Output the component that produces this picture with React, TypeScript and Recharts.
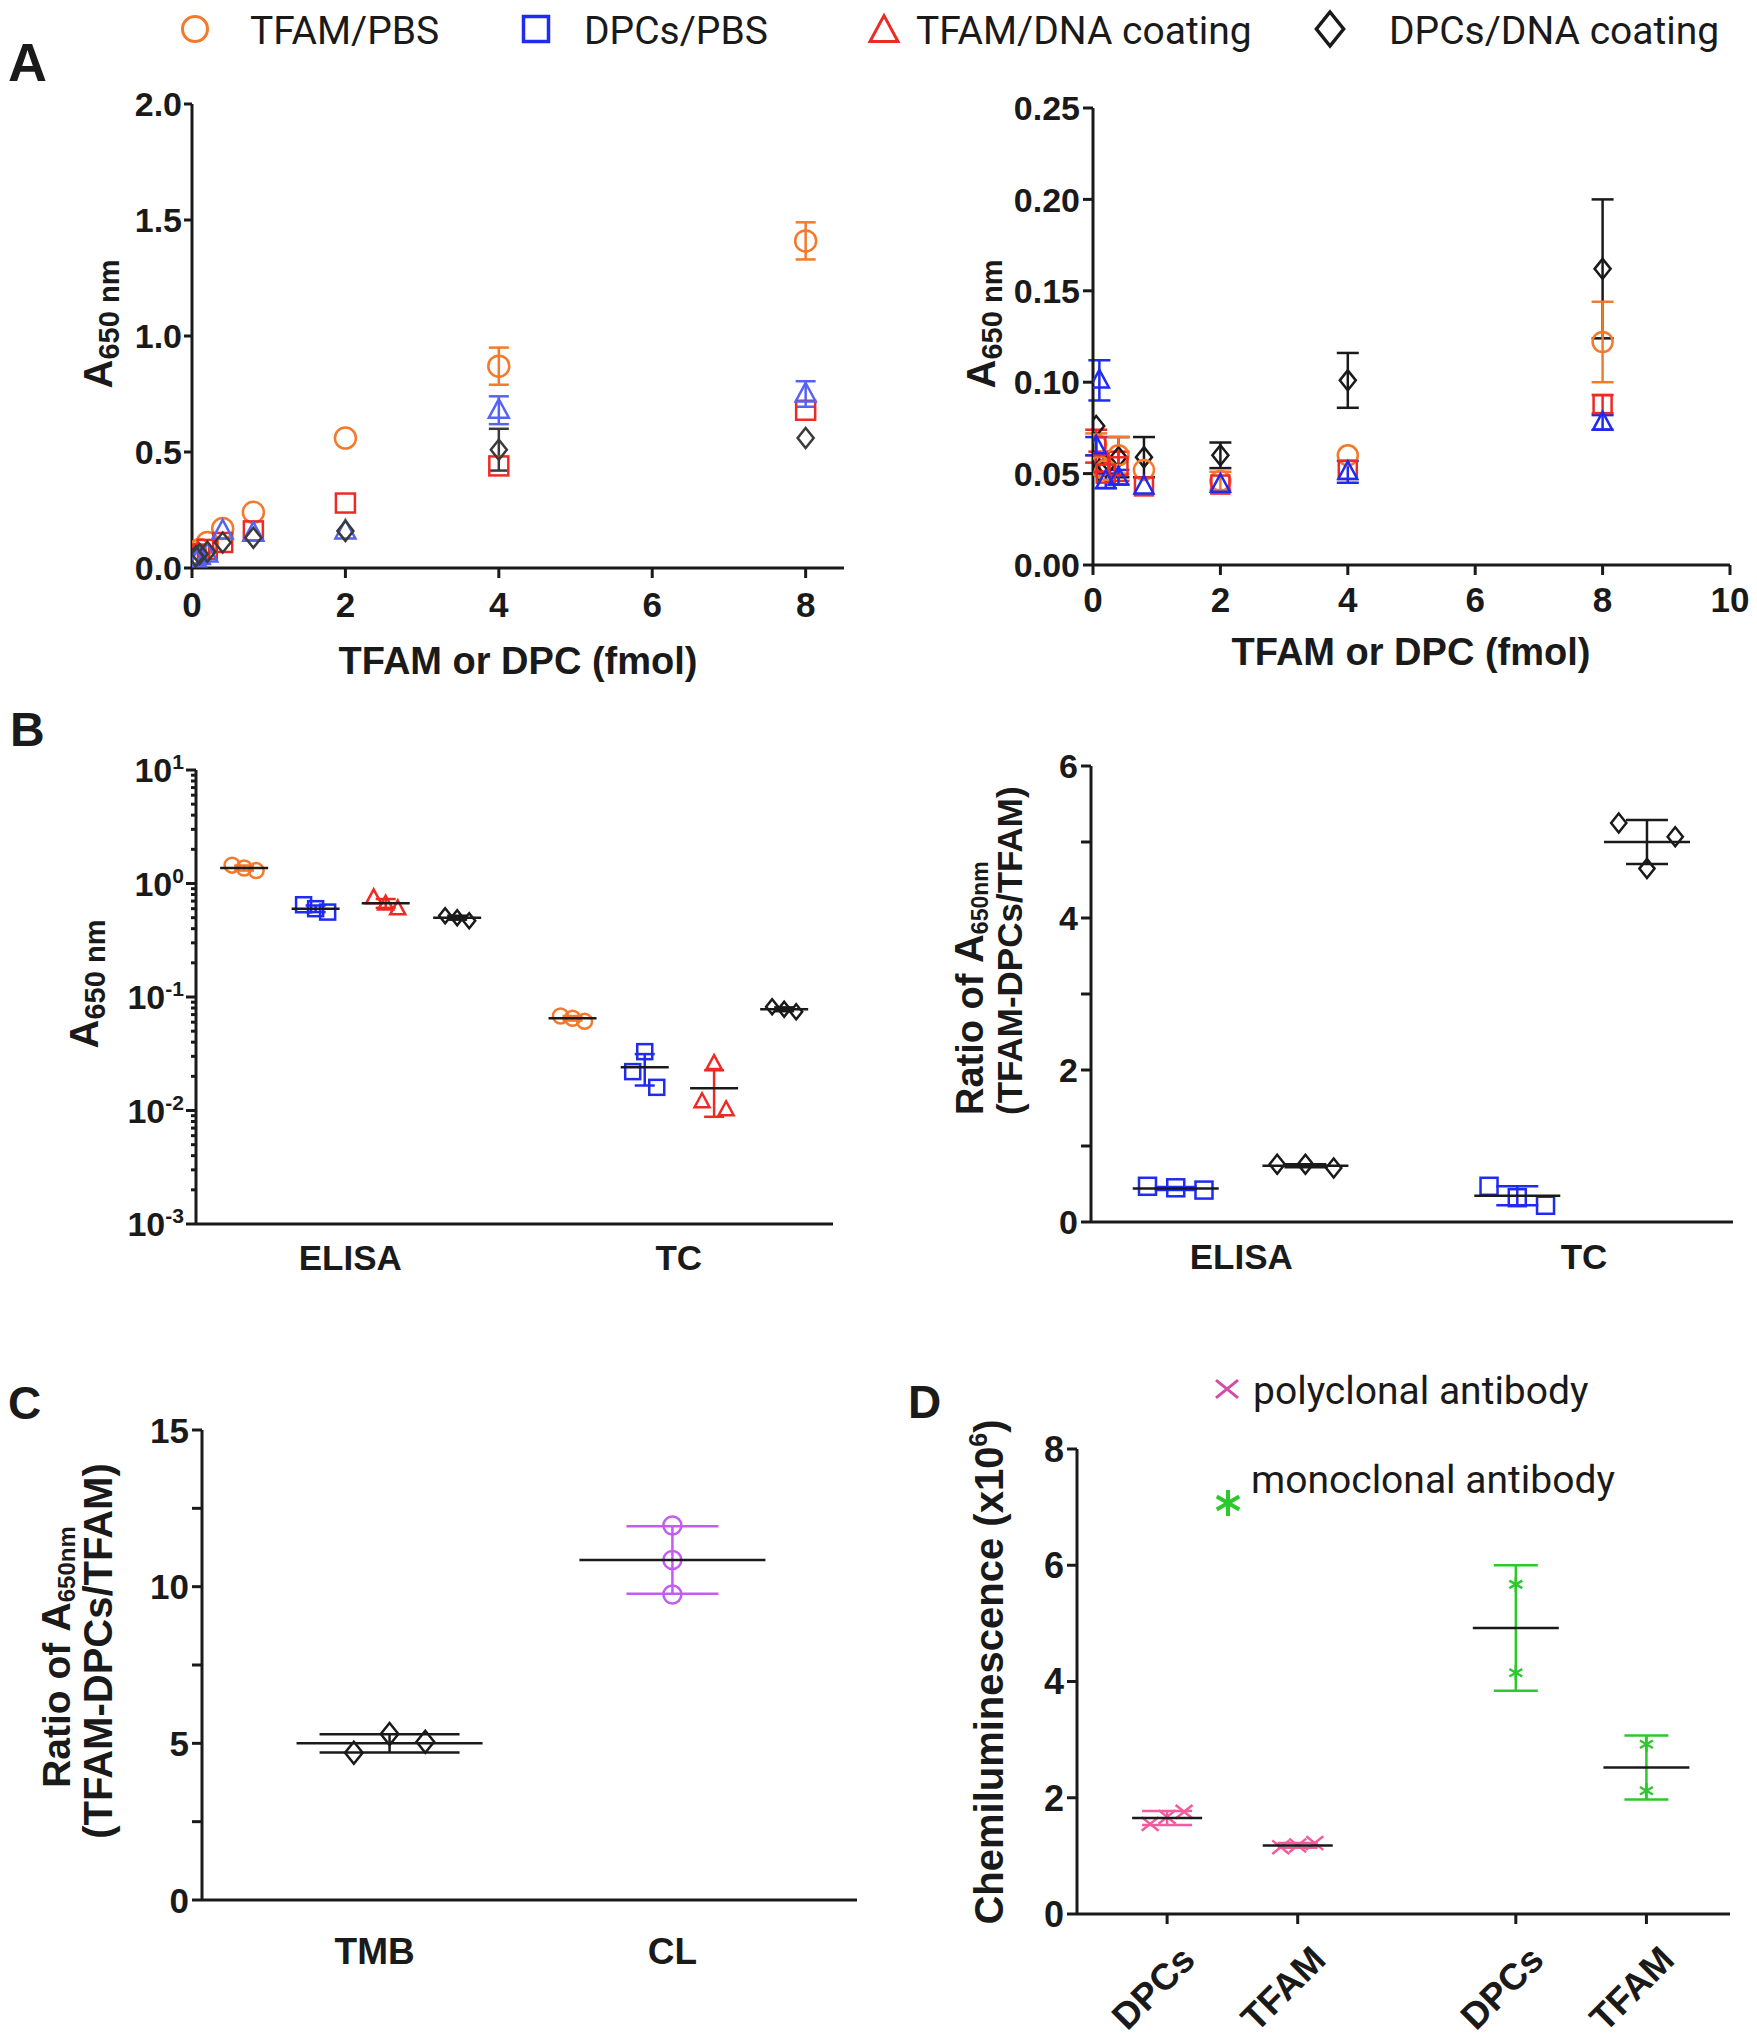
import React from 'react'
import { ScatterChart, Scatter, XAxis, YAxis, ErrorBar } from 'recharts'

const SANS = "'Liberation Sans', Arial, Helvetica, sans-serif"
const ROBOTO = "Roboto, 'Noto Sans', sans-serif"
const INK = '#1a1a1a'
const ORANGE = '#f5792a'
const BLUE = '#1f2bf0'
const LBLUE = '#5563f5'
const RED = '#ee2a24'
const GRAY = '#3a3a3a'
const VIOLET = '#c45cf2'
const PINK = '#f25c9e'
const MAGENTA = '#d24ca8'
const GREEN = '#2bc92b'

// ---- A: signal vs amount (x = fmol)
const doses = [0.05, 0.1, 0.2, 0.4, 0.8, 2, 4, 8]

const aLTfamPbs = [0.06, 0.08, 0.11, 0.17, 0.24, 0.56, 0.87, 1.41]
const aLTfamPbsErr = [0, 0, 0, 0, 0, 0, 0.08, 0.08]
const aLDpcPbs = [0.05, 0.06, 0.08, 0.11, 0.16, 0.28, 0.44, 0.68]
const aLDpcPbsErr = [0, 0, 0, 0, 0, 0, 0, 0]
const aLTfamDna = [0.04, 0.05, 0.06, 0.16, 0.15, 0.16, 0.68, 0.75]
const aLTfamDnaErr = [0, 0, 0, 0, 0, 0, 0.06, 0.055]
const aLDpcDna = [0.05, 0.06, 0.07, 0.11, 0.13, 0.16, 0.51, 0.56]
const aLDpcDnaErr = [0, 0, 0, 0, 0, 0, 0.09, 0]

const aRTfamPbs = [0.066, 0.054, 0.052, 0.06, 0.052, 0.046, 0.06, 0.122]
const aRTfamPbsErr = [0.006, 0, 0, 0.01, 0, 0.005, 0, 0.022]
const aRDpcPbs = [0.065, 0.056, 0.05, 0.054, 0.043, 0.044, 0.052, 0.088]
const aRDpcPbsErr = [0.009, 0.006, 0, 0.008, 0, 0, 0, 0.005]
const aRTfamDna = [0.065, 0.101, 0.046, 0.048, 0.043, 0.044, 0.051, 0.078]
const aRTfamDnaErr = [0.005, 0.011, 0.004, 0.004, 0, 0, 0.006, 0.004]
const aRDpcDna = [0.076, 0.052, 0.054, 0.059, 0.059, 0.06, 0.101, 0.162]
const aRDpcDnaErr = [0, 0, 0, 0.011, 0.011, 0.007, 0.015, 0.038]

const aLxTicks = [0, 2, 4, 6, 8]
const aLyTicks = [0, 0.5, 1, 1.5, 2]
const aLyLabels = ['0.0', '0.5', '1.0', '1.5', '2.0']
const aRxTicks = [0, 2, 4, 6, 8, 10]
const aRyTicks = [0, 0.05, 0.1, 0.15, 0.2, 0.25]
const aRyLabels = ['0.00', '0.05', '0.10', '0.15', '0.20', '0.25']

// ---- B left: A650 per method, log axis
const bCats = ['ELISA', 'TC']
const bCatX = [2.18, 6.82]
const bGroupX = [0.68, 1.69, 2.68, 3.69, 5.32, 6.34, 7.32, 8.31]
const bJitter = [-0.17, 0, 0.17]
const bTfamPbs = [[1.45, 1.37, 1.3], [0.068, 0.065, 0.061]]
const bDpcPbs = [[0.65, 0.6, 0.56], [0.022, 0.033, 0.016]]
const bTfamDna = [[0.75, 0.66, 0.6], [0.012, 0.026, 0.0102]]
const bDpcDna = [[0.52, 0.5, 0.47], [0.082, 0.078, 0.074]]
const bMeans = [1.37, 0.6, 0.67, 0.5, 0.065, 0.024, 0.0157, 0.078]
const bSds = [0.07, 0.04, 0.06, 0.02, 0.003, 0.0074, 0.0069, 0.003]
const bMajor = [0.001, 0.01, 0.1, 1, 10]
const bMajorLabels = ['10^-3', '10^-2', '10^-1', '10^0', '10^1']
const bMinorSteps = [2, 3, 4, 5, 6, 7, 8, 9]

// ---- B right: ratio TFAM-DPCs/TFAM
const brCats = ['ELISA', 'TC']
const brCatX = [1.17, 3.84]
const brGroupX = [0.66, 1.67, 3.32, 4.33]
const brJitter = [-0.22, 0, 0.22]
const brDpcPbs = [[0.47, 0.45, 0.42], [0.47, 0.32, 0.22]]
const brDpcDna = [[0.76, 0.76, 0.71], [5.25, 4.65, 5.07]]
const brMeans = [0.44, 0.74, 0.345, 5.0]
const brSds = [0.02, 0.02, 0.125, 0.29]
const brTicks = [0, 1, 2, 3, 4, 5, 6]
const brLabels = ['0', '', '2', '', '4', '', '6']

// ---- C: TMB vs CL readout
const cCats = ['TMB', 'CL']
const cCatX = [0.58, 1.58]
const cGroupX = [0.63, 1.58]
const cJitter = [-0.12, 0, 0.12]
const cTmb = [4.7, 5.3, 5.05]
const cCl = [11.95, 10.85, 9.75]
const cMeans = [5.0, 10.85]
const cSds = [0.29, 1.08]
const cTicks = [0, 2.5, 5, 7.5, 10, 12.5, 15]
const cLabels = ['0', '', '5', '', '10', '', '15']

// ---- D: chemiluminescence, two antibodies
const dCats = ['DPCs', 'TFAM', 'DPCs', 'TFAM']
const dCatX = [0.69, 1.69, 3.36, 4.36]
const dJitter = [-0.13, 0, 0.13]
const dPolyDpc = [1.55, 1.67, 1.76]
const dPolyTfam = [1.15, 1.18, 1.22]
const dMonoDpc = [5.67, 4.15]
const dMonoTfam = [2.92, 2.12]
const dMeans = [1.65, 1.18, 4.92, 2.52]
const dSds = [0.12, 0.04, 1.08, 0.55]
const dTicks = [0, 2, 4, 6, 8]

type Rect = { x0: number; y0: number; x1: number; y1: number }
const AL: Rect = { x0: 192, y0: 104, x1: 844, y1: 568 }
const AR: Rect = { x0: 1093, y0: 108, x1: 1730, y1: 565 }
const BL: Rect = { x0: 196, y0: 770, x1: 833, y1: 1224 }
const BR: Rect = { x0: 1091, y0: 766, x1: 1733, y1: 1222 }
const PC: Rect = { x0: 202, y0: 1430, x1: 857, y1: 1900 }
const PD: Rect = { x0: 1077, y0: 1449, x1: 1730, y1: 1914 }

const PAD_L = 140, PAD_T = 40, PAD_R = 40, PAD_B = 140
const AXIS = { stroke: INK, strokeWidth: 3 }

type Kind = 'circle' | 'square' | 'triangle' | 'diamond' | 'x' | 'star'

function Mark({ kind, cx, cy, s, color, sw = 2.5 }: { kind: Kind; cx: number; cy: number; s: number; color: string; sw?: number }) {
  const h = s / 2
  const st = { fill: 'none', stroke: color, strokeWidth: sw }
  if (kind === 'circle') return <circle cx={cx} cy={cy} r={h} {...st} />
  if (kind === 'square') return <rect x={cx - h} y={cy - h} width={s} height={s} {...st} />
  if (kind === 'triangle')
    return <polygon points={`${cx},${cy - h * 1.1} ${cx + h},${cy + h * 0.75} ${cx - h},${cy + h * 0.75}`} {...st} />
  if (kind === 'diamond')
    return <polygon points={`${cx},${cy - h} ${cx + h * 0.8},${cy} ${cx},${cy + h} ${cx - h * 0.8},${cy}`} {...st} />
  if (kind === 'x')
    return <path d={`M${cx - h},${cy - h * 0.8}L${cx + h},${cy + h * 0.8}M${cx - h},${cy + h * 0.8}L${cx + h},${cy - h * 0.8}`} {...st} />
  const a = h * 0.866, b = h * 0.5
  return <path d={`M${cx},${cy - h}L${cx},${cy + h}M${cx - a},${cy - b}L${cx + a},${cy + b}M${cx - a},${cy + b}L${cx + a},${cy - b}`} {...st} />
}

function tickText(lab: string, fs: number) {
  if (!lab.includes('^')) return lab
  const [base, exp] = lab.split('^')
  return (
    <>
      <tspan>{base}</tspan>
      <tspan fontSize={fs * 0.62} dy={-fs * 0.38}>{exp}</tspan>
    </>
  )
}

const yTick = (vals: number[], labels: string[], len: number, minor: number, fs: number, gap: number) => (p: any) => {
  const i = vals.indexOf(p.payload.value)
  const lab = i >= 0 ? labels[i] : ''
  const L = lab ? len : minor
  return (
    <g>
      <line x1={p.x} x2={p.x - L} y1={p.y} y2={p.y} stroke={INK} strokeWidth={3} />
      {lab ? (
        <text x={p.x - L - gap} y={p.y + fs * 0.36} textAnchor="end" fontFamily={SANS} fontWeight={700} fontSize={fs} fill={INK}>
          {tickText(lab, fs)}
        </text>
      ) : null}
    </g>
  )
}

const xTick = (vals: number[], labels: string[], len: number, fs: number, off: number) => (p: any) => {
  const i = vals.indexOf(p.payload.value)
  const lab = i >= 0 ? labels[i] : ''
  return (
    <g>
      {len > 0 ? <line x1={p.x} x2={p.x} y1={p.y} y2={p.y + len} stroke={INK} strokeWidth={3} /> : null}
      <text x={p.x} y={p.y + off + fs * 0.36} textAnchor="middle" fontFamily={SANS} fontWeight={700} fontSize={fs} fill={INK}>
        {lab}
      </text>
    </g>
  )
}

const xTickRot = (vals: number[], labels: string[], len: number, fs: number) => (p: any) => {
  const i = vals.indexOf(p.payload.value)
  const lab = i >= 0 ? labels[i] : ''
  const ax = p.x + 30, ay = p.y + 48
  return (
    <g>
      <line x1={p.x} x2={p.x} y1={p.y} y2={p.y + len} stroke={INK} strokeWidth={3} />
      <text transform={`translate(${ax},${ay}) rotate(-45)`} textAnchor="end" fontFamily={SANS} fontWeight={700} fontSize={fs} fill={INK}>
        {lab}
      </text>
    </g>
  )
}

function Frame({ r, children }: { r: Rect; children: React.ReactNode }) {
  const w = r.x1 - r.x0 + PAD_L + PAD_R
  const h = r.y1 - r.y0 + PAD_T + PAD_B
  return (
    <div style={{ position: 'absolute', left: r.x0 - PAD_L, top: r.y0 - PAD_T, width: w, height: h }}>
      <ScatterChart width={w} height={h} margin={{ top: PAD_T, right: PAD_R, bottom: 0, left: 0 }}>
        {children}
      </ScatterChart>
    </div>
  )
}

const series = (xs: number[], ys: number[], es?: number[]) => xs.map((x, i) => ({ x, y: ys[i], e: es ? es[i] : 0 }))
const group = (gx: number, ys: number[], jit: number[]) => ys.map((y, i) => ({ x: gx + (ys.length === 3 ? jit[i] : 0), y, e: 0 }))

function dots(key: string, data: any[], kind: Kind, color: string, s: number, capW = 0, sw = 2.5) {
  return (
    <Scatter key={key} data={data} isAnimationActive={false} shape={(p: any) => <Mark kind={kind} cx={p.cx} cy={p.cy} s={s} color={color} sw={sw} />}>
      {capW > 0 ? <ErrorBar dataKey="e" direction="y" width={capW} stroke={color} strokeWidth={2.5} isAnimationActive={false} /> : null}
    </Scatter>
  )
}

function meanSd(key: string, x: number, mean: number, sd: number, color: string, halfW: number, capW: number) {
  return (
    <Scatter
      key={key}
      data={[{ x, y: mean, e: sd }]}
      isAnimationActive={false}
      shape={(p: any) => <line x1={p.cx - halfW} x2={p.cx + halfW} y1={p.cy} y2={p.cy} stroke={INK} strokeWidth={2.5} />}
    >
      <ErrorBar dataKey="e" direction="y" width={capW} stroke={color} strokeWidth={2.5} isAnimationActive={false} />
    </Scatter>
  )
}

const bLogTicks = bMajor.concat(bMajor.slice(0, 4).flatMap((m) => bMinorSteps.map((k) => +(m * k).toPrecision(3))))

export default function App() {
  const bColors = [ORANGE, BLUE, RED, INK]
  const bKinds: Kind[] = ['circle', 'square', 'triangle', 'diamond']
  const bSets = [bTfamPbs, bDpcPbs, bTfamDna, bDpcDna]

  return (
    <div style={{ position: 'absolute', left: 0, top: 0, width: 1757, height: 2040, background: '#fff', overflow: 'hidden' }}>
      {/* A left */}
      <Frame r={AL}>
        <XAxis type="number" dataKey="x" domain={[0, 8.5]} ticks={aLxTicks} interval={0} height={PAD_B} tickSize={0} tickMargin={0} axisLine={AXIS} tick={xTick(aLxTicks, aLxTicks.map(String), 10, 35, 36)} allowDataOverflow />
        <YAxis type="number" dataKey="y" domain={[0, 2]} ticks={aLyTicks} interval={0} width={PAD_L} tickSize={0} tickMargin={0} axisLine={AXIS} tick={yTick(aLyTicks, aLyLabels, 8, 8, 34, 2)} allowDataOverflow />
        {dots('al1', series(doses, aLTfamPbs, aLTfamPbsErr), 'circle', ORANGE, 21, 10)}
        {dots('al2', series(doses, aLDpcPbs, aLDpcPbsErr), 'square', RED, 19, 10)}
        {dots('al3', series(doses, aLTfamDna, aLTfamDnaErr), 'triangle', LBLUE, 20, 10)}
        {dots('al4', series(doses, aLDpcDna, aLDpcDnaErr), 'diamond', GRAY, 20, 10)}
      </Frame>

      {/* A right */}
      <Frame r={AR}>
        <XAxis type="number" dataKey="x" domain={[0, 10]} ticks={aRxTicks} interval={0} height={PAD_B} tickSize={0} tickMargin={0} axisLine={AXIS} tick={xTick(aRxTicks, aRxTicks.map(String), 10, 35, 34)} allowDataOverflow />
        <YAxis type="number" dataKey="y" domain={[0, 0.25]} ticks={aRyTicks} interval={0} width={PAD_L} tickSize={0} tickMargin={0} axisLine={AXIS} tick={yTick(aRyTicks, aRyLabels, 10, 10, 34, 3)} allowDataOverflow />
        {dots('ar4', series(doses, aRDpcDna, aRDpcDnaErr), 'diamond', INK, 20, 11)}
        {dots('ar1', series(doses, aRTfamPbs, aRTfamPbsErr), 'circle', ORANGE, 20, 11)}
        {dots('ar2', series(doses, aRDpcPbs, aRDpcPbsErr), 'square', RED, 18, 11)}
        {dots('ar3', series(doses, aRTfamDna, aRTfamDnaErr), 'triangle', BLUE, 19, 11)}
      </Frame>

      {/* B left */}
      <Frame r={BL}>
        <XAxis type="number" dataKey="x" domain={[0, 9]} ticks={bCatX} interval={0} height={PAD_B} tickSize={0} tickMargin={0} axisLine={AXIS} tick={xTick(bCatX, bCats, 0, 35, 33)} allowDataOverflow />
        <YAxis type="number" dataKey="y" scale="log" domain={[0.001, 10]} ticks={bLogTicks} interval={0} width={PAD_L} tickSize={0} tickMargin={0} axisLine={AXIS} tick={yTick(bMajor, bMajorLabels, 10, 5, 34, 2)} allowDataOverflow />
        {bSets.map((set, k) =>
          set.map((vals, c) => dots(`b${k}${c}`, group(bGroupX[c * 4 + k], vals, bJitter), bKinds[k], bColors[k], 15, 0, 2.5))
        )}
        {bMeans.map((m, i) => meanSd(`bm${i}`, bGroupX[i], m, bSds[i], bColors[i % 4], 24, 10))}
      </Frame>

      {/* B right */}
      <Frame r={BR}>
        <XAxis type="number" dataKey="x" domain={[0, 5]} ticks={brCatX} interval={0} height={PAD_B} tickSize={0} tickMargin={0} axisLine={AXIS} tick={xTick(brCatX, brCats, 0, 35, 34)} allowDataOverflow />
        <YAxis type="number" dataKey="y" domain={[0, 6]} ticks={brTicks} interval={0} width={PAD_L} tickSize={0} tickMargin={0} axisLine={AXIS} tick={yTick(brTicks, brLabels, 10, 10, 34, 3)} allowDataOverflow />
        {dots('br1', group(brGroupX[0], brDpcPbs[0], brJitter), 'square', BLUE, 17)}
        {dots('br2', group(brGroupX[1], brDpcDna[0], brJitter), 'diamond', INK, 19)}
        {dots('br3', group(brGroupX[2], brDpcPbs[1], brJitter), 'square', BLUE, 17)}
        {dots('br4', group(brGroupX[3], brDpcDna[1], brJitter), 'diamond', INK, 19)}
        {brMeans.map((m, i) => meanSd(`brm${i}`, brGroupX[i], m, brSds[i], i % 2 === 0 ? BLUE : INK, 43, 21))}
      </Frame>

      {/* C */}
      <Frame r={PC}>
        <XAxis type="number" dataKey="x" domain={[0, 2.2]} ticks={cCatX} interval={0} height={PAD_B} tickSize={0} tickMargin={0} axisLine={AXIS} tick={xTick(cCatX, cCats, 0, 37, 51)} allowDataOverflow />
        <YAxis type="number" dataKey="y" domain={[0, 15]} ticks={cTicks} interval={0} width={PAD_L} tickSize={0} tickMargin={0} axisLine={AXIS} tick={yTick(cTicks, cLabels, 10, 10, 35, 3)} allowDataOverflow />
        {dots('c1', group(cGroupX[0], cTmb, cJitter), 'diamond', INK, 22)}
        {dots('c2', cCl.map((y) => ({ x: cGroupX[1], y, e: 0 })), 'circle', VIOLET, 18)}
        {meanSd('cm0', cGroupX[0], cMeans[0], cSds[0], INK, 93, 70)}
        {meanSd('cm1', cGroupX[1], cMeans[1], cSds[1], VIOLET, 93, 46)}
      </Frame>

      {/* D */}
      <Frame r={PD}>
        <XAxis type="number" dataKey="x" domain={[0, 5]} ticks={dCatX} interval={0} height={PAD_B} tickSize={0} tickMargin={0} axisLine={AXIS} tick={xTickRot(dCatX, dCats, 10, 37)} allowDataOverflow />
        <YAxis type="number" dataKey="y" domain={[0, 8]} ticks={dTicks} interval={0} width={PAD_L} tickSize={0} tickMargin={0} axisLine={AXIS} tick={yTick(dTicks, dTicks.map(String), 10, 10, 36, 3)} allowDataOverflow />
        {dots('d1', group(dCatX[0], dPolyDpc, dJitter), 'x', PINK, 17)}
        {dots('d2', group(dCatX[1], dPolyTfam, dJitter), 'x', PINK, 17)}
        {dots('d3', group(dCatX[2], dMonoDpc, dJitter), 'star', GREEN, 15)}
        {dots('d4', group(dCatX[3], dMonoTfam, dJitter), 'star', GREEN, 15)}
        {meanSd('dm0', dCatX[0], dMeans[0], dSds[0], PINK, 35, 25)}
        {meanSd('dm1', dCatX[1], dMeans[1], dSds[1], PINK, 35, 20)}
        {meanSd('dm2', dCatX[2], dMeans[2], dSds[2], GREEN, 43, 22)}
        {meanSd('dm3', dCatX[3], dMeans[3], dSds[3], GREEN, 43, 22)}
      </Frame>

      {/* titles, legends, panel letters */}
      <svg width={1757} height={2040} style={{ position: 'absolute', left: 0, top: 0, pointerEvents: 'none' }}>
        <g fontFamily={ROBOTO} fontSize={39} fill={INK}>
          <Mark kind="circle" cx={195} cy={29} s={25} color={ORANGE} sw={3} />
          <text x={250} y={44}>TFAM/PBS</text>
          <Mark kind="square" cx={536} cy={29} s={25} color={BLUE} sw={3.5} />
          <text x={584} y={44}>DPCs/PBS</text>
          <Mark kind="triangle" cx={884} cy={31} s={28} color={RED} sw={3} />
          <text x={916} y={44}>TFAM/DNA coating</text>
          <Mark kind="diamond" cx={1330} cy={29} s={34} color={INK} sw={3.5} />
          <text x={1389} y={44}>DPCs/DNA coating</text>
        </g>

        <g fontFamily={SANS} fontWeight={700} fill={INK}>
          <text x={8} y={81} fontSize={54}>A</text>
          <text x={10} y={746} fontSize={48}>B</text>
          <text x={8} y={1419} fontSize={46}>C</text>
          <text x={908} y={1418} fontSize={46}>D</text>

          <text x={518} y={674} fontSize={38} textAnchor="middle">TFAM or DPC (fmol)</text>
          <text x={1411} y={665} fontSize={38} textAnchor="middle">TFAM or DPC (fmol)</text>

          <text transform="translate(112,324) rotate(-90)" textAnchor="middle">
            <tspan fontSize={40}>A</tspan>
            <tspan fontSize={29} dy={7}>650 nm</tspan>
          </text>
          <text transform="translate(995,324) rotate(-90)" textAnchor="middle">
            <tspan fontSize={40}>A</tspan>
            <tspan fontSize={29} dy={7}>650 nm</tspan>
          </text>
          <text transform="translate(98,984) rotate(-90)" textAnchor="middle">
            <tspan fontSize={40}>A</tspan>
            <tspan fontSize={29} dy={7}>650 nm</tspan>
          </text>

          <text transform="translate(983,1115) rotate(-90)" textAnchor="start" fontSize={38}>
            Ratio of <tspan fontSize={40}>A</tspan>
            <tspan fontSize={23} dy={5}>650nm</tspan>
          </text>
          <text transform="translate(1022,1115) rotate(-90)" textAnchor="start" fontSize={35}>
            (TFAM-DPCs/TFAM)
          </text>

          <text transform="translate(70,1657) rotate(-90)" textAnchor="middle" fontSize={39}>
            Ratio of <tspan fontSize={41}>A</tspan>
            <tspan fontSize={24} dy={5}>650nm</tspan>
          </text>
          <text transform="translate(112,1651) rotate(-90)" textAnchor="middle" fontSize={40}>
            (TFAM-DPCs/TFAM)
          </text>

          <text transform="translate(1003,1672) rotate(-90)" textAnchor="middle" fontSize={40}>
            Chemiluminescence (x10<tspan fontSize={25} dy={-16}>6</tspan>
            <tspan dy={16}>)</tspan>
          </text>
        </g>

        <g fontFamily={ROBOTO} fontSize={39} fill={INK}>
          <Mark kind="x" cx={1227} cy={1389} s={22} color={MAGENTA} sw={3} />
          <text x={1253} y={1404}>polyclonal antibody</text>
          <Mark kind="star" cx={1228} cy={1503} s={26} color={GREEN} sw={4} />
          <text x={1251} y={1493}>monoclonal antibody</text>
        </g>
      </svg>
    </div>
  )
}
